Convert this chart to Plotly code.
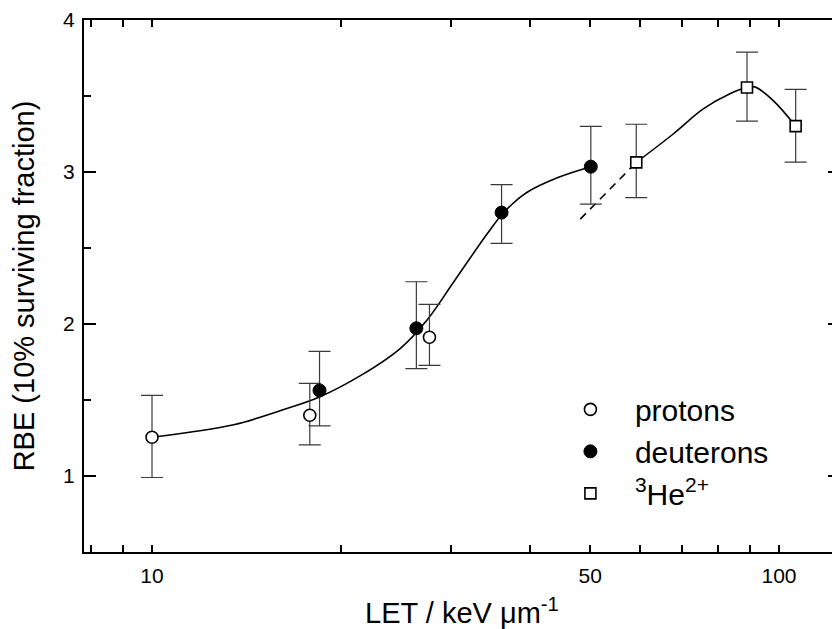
import plotly.graph_objects as go
import math

# ---- data ----
proton_let = [10.0, 17.85, 27.7]
proton_rbe = [1.255, 1.40, 1.913]
proton_err_plus = [0.275, 0.21, 0.216]
proton_err_minus = [0.265, 0.195, 0.185]

deut_let = [18.5, 26.4, 36.1, 50.1]
deut_rbe = [1.563, 1.972, 2.733, 3.035]
deut_err_plus = [0.257, 0.306, 0.184, 0.265]
deut_err_minus = [0.233, 0.266, 0.203, 0.247]

he_let = [59.2, 88.9, 106.3]
he_rbe = [3.063, 3.556, 3.302]
he_err_plus = [0.251, 0.233, 0.241]
he_err_minus = [0.231, 0.221, 0.237]

# fitted curves
fit1_let = [10.0, 13.5, 16.0, 18.5, 21.5, 24.9, 27.5, 30.2, 34.2, 36.5, 39.6, 44.5, 50.1]
fit1_rbe = [1.255, 1.337, 1.43, 1.52, 1.66, 1.84, 2.03, 2.27, 2.59, 2.74, 2.865, 2.965, 3.035]
dash_let = [48.2, 59.2]
dash_rbe = [2.69, 3.063]
fit2_let = [59.2, 67.8, 75.7, 83.5, 88.9, 91.5, 97.9, 106.3]
fit2_rbe = [3.063, 3.25, 3.415, 3.515, 3.556, 3.56, 3.47, 3.302]

x_label_vals = [10, 50, 100]
x_major_long = [10, 100]
x_minor_vals = [8, 9, 20, 30, 40, 60, 70, 80, 90]
x_range = [7.79, 125.1]
y_range = [0.5, 4.0]

FONT = "Liberation Sans, Arial, Helvetica, sans-serif"
ERRC = "#3a3a3a"

fig = go.Figure()

fig.add_trace(go.Scatter(x=fit1_let, y=fit1_rbe, mode="lines", line=dict(color="black", width=1.6, shape="spline", smoothing=1.0), showlegend=False, hoverinfo="skip"))
fig.add_trace(go.Scatter(x=dash_let, y=dash_rbe, mode="lines", line=dict(color="black", width=1.6, dash="8px,6px"), showlegend=False, hoverinfo="skip"))
fig.add_trace(go.Scatter(x=fit2_let, y=fit2_rbe, mode="lines", line=dict(color="black", width=1.6, shape="spline", smoothing=1.0), showlegend=False, hoverinfo="skip"))

def err(p, m):
    return dict(type="data", symmetric=False, array=p, arrayminus=m, color=ERRC, thickness=1.2, width=11)

fig.add_trace(go.Scatter(x=proton_let, y=proton_rbe, mode="markers", name="protons",
                         marker=dict(symbol="circle", size=12, color="white", line=dict(color="black", width=1.6)),
                         error_y=err(proton_err_plus, proton_err_minus)))
fig.add_trace(go.Scatter(x=deut_let, y=deut_rbe, mode="markers", name="deuterons",
                         marker=dict(symbol="circle", size=13, color="black", line=dict(color="black", width=1)),
                         error_y=err(deut_err_plus, deut_err_minus)))
fig.add_trace(go.Scatter(x=he_let, y=he_rbe, mode="markers", name="<sup>3</sup>He<sup>2+</sup>",
                         marker=dict(symbol="square", size=11, color="white", line=dict(color="black", width=1.6)),
                         error_y=err(he_err_plus, he_err_minus)))

lx = [math.log10(v) for v in x_range]

fig.update_layout(
    width=832, height=621,
    margin=dict(l=76, r=0, t=12, b=77, autoexpand=False),
    paper_bgcolor="white", plot_bgcolor="white",
    font=dict(family=FONT, color="black"),
    showlegend=True,
    legend=dict(x=0.611, y=0.317, xanchor="left", yanchor="top", bgcolor="rgba(0,0,0,0)",
                font=dict(size=30, family=FONT), itemwidth=79, tracegroupgap=0),
    xaxis=dict(type="log", range=lx, showline=True, linecolor="black", linewidth=2, mirror="ticks",
               automargin=False,
               ticks="inside", ticklen=7, tickwidth=1.5, tickcolor="black",
               tickmode="array", tickvals=x_label_vals, ticktext=[str(v) for v in x_label_vals],
               tickfont=dict(size=21, family=FONT), ticklabelstandoff=4, showgrid=False, zeroline=False,
               minor=dict(tickmode="array", tickvals=x_minor_vals, ticks="inside", ticklen=7, tickwidth=1.5, tickcolor="black", showgrid=False),
               title=dict(text="LET / keV \u03bcm<sup>-1</sup>", font=dict(size=29, family=FONT), standoff=20)),
    xaxis2=dict(type="log", range=lx, overlaying="x", anchor="y", side="bottom", showline=False, mirror="ticks",
                automargin=False,
                ticks="inside", ticklen=12, tickwidth=2, tickcolor="black",
                tickmode="array", tickvals=x_major_long, showticklabels=False, showgrid=False, zeroline=False),
    yaxis=dict(range=y_range, showline=True, linecolor="black", linewidth=2, mirror="ticks",
               automargin=False,
               ticks="inside", ticklen=12, tickwidth=2, tickcolor="black",
               tickmode="array", tickvals=[1, 2, 3, 4], tickfont=dict(size=21, family=FONT), ticklabelstandoff=3,
               showgrid=False, zeroline=False,
               minor=dict(tickmode="linear", tick0=0.5, dtick=0.5, ticks="inside", ticklen=7, tickwidth=1.5, tickcolor="black", showgrid=False),
               title=dict(text="RBE (10% surviving fraction)", font=dict(size=29, family=FONT), standoff=24)),
)

fig.write_html("out.html")
